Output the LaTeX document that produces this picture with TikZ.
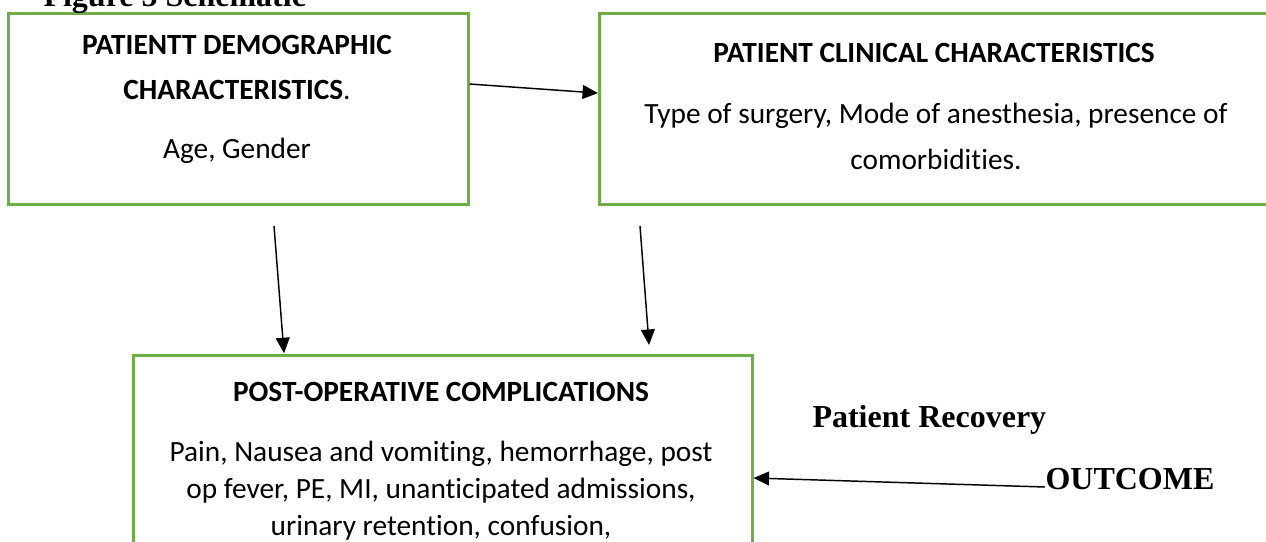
\documentclass[tikz,border=0pt]{standalone}
\usepackage{fontspec}
\setmainfont{Carlito}[Ligatures=NoCommon]
\newfontfamily\serifbf{Liberation Serif}
\usetikzlibrary{arrows.meta}
\definecolor{boxgreen}{HTML}{70AD47}
\begin{document}
\begin{tikzpicture}[x=0.375pt,y=-0.375pt,
  box/.style={draw=boxgreen, line width=0.95pt, rectangle, inner sep=0pt, anchor=north west},
  txt/.style={anchor=base, inner sep=0pt, font=\fontsize{11}{13}\selectfont},
  hd/.style={anchor=base, inner sep=0pt, font=\fontsize{11}{13}\selectfont\bfseries},
  lbl/.style={anchor=base west, inner sep=0pt, font=\fontsize{12}{14}\serifbf\bfseries},
  conn/.style={draw=black, line width=0.55pt, -{Triangle[length=5.8pt,width=5.2pt]}}]
\useasboundingbox (0,0) rectangle (1266,541);
\clip (0,0) rectangle (1266,541);
% boxes
\node[box, minimum width=460*0.375pt, minimum height=191*0.375pt] (demo) at (7,12) {};
\node[box, minimum width=700*0.375pt, minimum height=191*0.375pt] (clin) at (598,12) {};
\node[box, minimum width=619*0.375pt, minimum height=250*0.375pt] (comp) at (132,354) {};
% texts
\node[hd] (demoT1) at (237,54) {PATIENTT DEMOGRAPHIC};
\node[txt] (demoT2) at (237,99) {\textbf{CHARACTERISTICS}.};
\node[txt] (demoB) at (237,158) {Age, Gender};
\node[hd] (clinT) at (934,62) {PATIENT CLINICAL CHARACTERISTICS};
\node[txt] (clinB1) at (936,123) {Type of surgery, Mode of anesthesia, presence of};
\node[txt] (clinB2) at (936,169) {comorbidities.};
\node[hd] (compT) at (441,401) {POST-OPERATIVE COMPLICATIONS};
\node[txt] (compB1) at (441,461) {Pain, Nausea and vomiting, hemorrhage, post};
\node[txt] (compB2) at (441,498) {op fever, PE, MI, unanticipated admissions,};
\node[txt] (compB3) at (441,535) {urinary retention, confusion,};
\node[lbl] (fig) at (43,6) {Figure 5 Schematic};
\node[lbl] (rec) at (812,427) {Patient Recovery};
\node[lbl] (out) at (1045,489) {OUTCOME};
% connector ends
\coordinate (dsA) at (274,226);
\coordinate (dsB) at (640,226);
% connectors
\draw[conn] ([yshift=-27pt]demo.north east) -- ([yshift=-30.4pt]clin.north west);
\draw[conn] (dsA) -- ([xshift=57pt,yshift=0.3pt]comp.north west);
\draw[conn] (dsB) -- ([xshift=193.9pt,yshift=3.4pt]comp.north west);
\draw[conn] ([yshift=0.75pt]out.base west) -- ([yshift=-46.5pt]comp.north east);
\end{tikzpicture}
\end{document}
